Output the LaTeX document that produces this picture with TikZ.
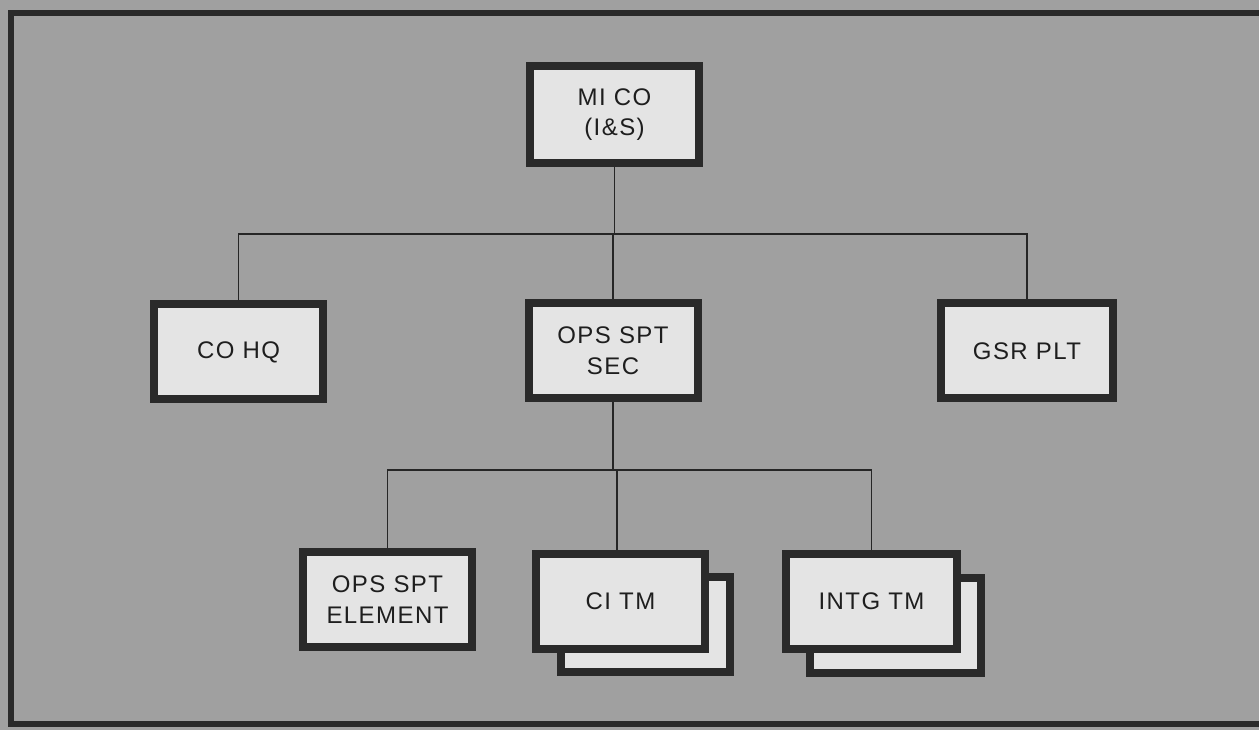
\documentclass[tikz,border=0pt]{standalone}
\usepackage{fontspec}
\setmainfont{Liberation Sans}
\definecolor{bg}{HTML}{A0A0A0}
\definecolor{boxfill}{HTML}{E4E4E4}
\definecolor{edge}{HTML}{2A2A2A}
\definecolor{ink}{HTML}{1E1E1E}
\tikzset{
  unit/.style={draw=edge, fill=boxfill, line width=6pt, text=ink,
    minimum width=126.75pt, minimum height=71.25pt, inner sep=0pt,
    align=center, font=\fontsize{18}{23}\selectfont\addfontfeature{LetterSpace=6}},
  link/.style={draw=black!85, line width=1pt}
}
\begin{document}
\begin{tikzpicture}[x=0.75pt,y=-0.75pt]
\useasboundingbox (0,0) rectangle (1259,730);
\begin{scope}
\clip (0,0) rectangle (1259,730);
\fill[bg] (0,0) rectangle (1259,730);
\draw[edge, line width=5pt] (11,13) rectangle (1266,724);
\end{scope}
% bus coordinates
\coordinate (bus1) at (615,234);
\coordinate (bus2) at (617,470);
% nodes
\node[unit, minimum height=72.75pt] (mico) at (614.5,114.5) {MI CO\\(I\&S)};
\node[unit] (cohq) at (238.5,352) {CO HQ};
\node[unit] (opssec) at (613,351) {OPS SPT\\SEC};
\node[unit, minimum width=129pt] (gsr) at (1027,351) {GSR PLT};
\node[unit] (elem) at (387.5,599.5) {OPS SPT\\ELEMENT};
\node[unit] (citmb) at (645.5,624.5) {};
\node[unit] (citm) at (620.5,601.5) {CI TM};
\node[unit, minimum width=128pt] (intgb) at (895.5,625.5) {};
\node[unit, minimum width=128pt] (intg) at (871.5,601.5) {INTG TM};
% connectors
\draw[link] (mico.south) -- (mico.south |- bus1);
\draw[link] (cohq.north) -- (cohq.north |- bus1) -- (gsr.north |- bus1) -- (gsr.north);
\draw[link] (opssec.north |- bus1) -- (opssec.north);
\draw[link] (opssec.south) -- (opssec.south |- bus2);
\draw[link] (elem.north) |- (bus2) -| (intg.north);
\draw[link] (bus2) -- (bus2 |- citm.north);
\end{tikzpicture}
\end{document}
